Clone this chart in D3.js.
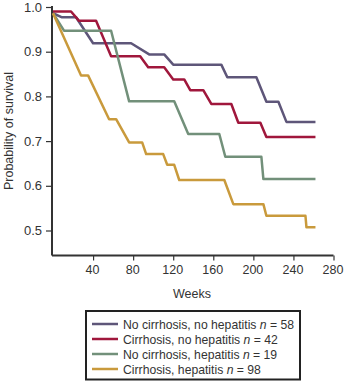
<!DOCTYPE html>
<html lang="en">
<head>
<meta charset="utf-8">
<title>Survival</title>
<script src="https://cdn.jsdelivr.net/npm/d3@7"></script>
<style>
  body { margin: 0; background: #fff; }
  text { font-family: Arial, "Liberation Sans", Helvetica, sans-serif; fill: #333; }
</style>
</head>
<body>
<script>

var width = 344;
var height = 381;

// weeks and survival at the corners of each curve
var noCirrNoHepWeeks = [0, 9, 23, 40, 78, 96, 111, 120, 168, 174, 203, 213, 225, 233, 262];
var noCirrNoHepSurv  = [0.986, 0.977, 0.977, 0.919, 0.919, 0.894, 0.894, 0.871, 0.871, 0.843, 0.843, 0.788, 0.788, 0.743, 0.743];

var cirrNoHepWeeks = [0, 18, 26, 43, 58, 87, 95, 111, 120, 131, 137, 150, 158, 178, 185, 207, 213, 262];
var cirrNoHepSurv  = [0.990, 0.990, 0.969, 0.969, 0.890, 0.890, 0.865, 0.865, 0.838, 0.838, 0.814, 0.814, 0.783, 0.783, 0.741, 0.741, 0.709, 0.709];

var noCirrHepWeeks = [0, 11, 58, 76, 121, 135, 166, 172, 208, 210, 262];
var noCirrHepSurv  = [0.986, 0.947, 0.947, 0.789, 0.789, 0.716, 0.716, 0.665, 0.665, 0.615, 0.615];

var cirrHepWeeks = [0, 28, 35, 56, 63, 76, 89, 93, 110, 114, 121, 126, 171, 180, 210, 213, 252, 253, 262];
var cirrHepSurv  = [0.986, 0.847, 0.847, 0.749, 0.749, 0.697, 0.697, 0.671, 0.671, 0.647, 0.647, 0.613, 0.613, 0.559, 0.559, 0.533, 0.533, 0.507, 0.507];

var seriesNames = ["No cirrhosis, no hepatitis", "Cirrhosis, no hepatitis", "No cirrhosis, hepatitis", "Cirrhosis, hepatitis"];
var seriesN = [58, 42, 19, 98];
var colors = ["#5e5679", "#a0173c", "#72907a", "#c99a3c"];

var xTicks = [40, 80, 120, 160, 200, 240, 280];
var yTicks = [0.5, 0.6, 0.7, 0.8, 0.9, 1.0];

var series = [
  d3.zip(noCirrNoHepWeeks, noCirrNoHepSurv),
  d3.zip(cirrNoHepWeeks, cirrNoHepSurv),
  d3.zip(noCirrHepWeeks, noCirrHepSurv),
  d3.zip(cirrHepWeeks, cirrHepSurv)
];

var svg = d3.select("body").append("svg")
    .attr("width", width)
    .attr("height", height);

var x = d3.scaleLinear().domain([0, 280]).range([53, 333.5]);
var y = d3.scaleLinear().domain([0.5, 1.0]).range([230.5, 7]);
var yBottom = 255.5;
var xLeft = 52;

// axes
var xAxis = svg.append("g")
    .attr("transform", "translate(0," + yBottom + ")")
    .call(d3.axisBottom(x).tickValues(xTicks).tickSize(5).tickPadding(5).tickSizeOuter(0));
xAxis.select(".domain").attr("d", "M" + xLeft + ",0H" + x(280));
xAxis.selectAll(".tick text").attr("font-size", 12.5).attr("dx", -1);

var yAxis = svg.append("g")
    .attr("transform", "translate(" + xLeft + ",0)")
    .call(d3.axisLeft(y).tickValues(yTicks).tickFormat(d3.format(".1f")).tickSize(6).tickPadding(4).tickSizeOuter(0));
yAxis.select(".domain").attr("d", "M0," + (y(1.0) - 1) + "V" + yBottom);
yAxis.selectAll(".tick text").attr("font-size", 13);

svg.selectAll(".domain").attr("stroke", "#333").attr("stroke-width", 2);
svg.selectAll(".tick line").attr("stroke", "#333").attr("stroke-width", 1.2);
svg.selectAll(".tick text").attr("fill", "#333");

svg.append("text")
    .attr("x", 192)
    .attr("y", 298)
    .attr("text-anchor", "middle")
    .attr("font-size", 12.5)
    .text("Weeks");

svg.append("text")
    .attr("transform", "translate(13,131)rotate(-90)")
    .attr("text-anchor", "middle")
    .attr("font-size", 12.5)
    .text("Probability of survival");

// curves
var line = d3.line()
    .x(function(d) { return x(d[0]); })
    .y(function(d) { return y(d[1]); });

svg.selectAll("path.curve")
    .data(series)
    .enter()
    .append("path")
    .attr("class", "curve")
    .attr("d", line)
    .attr("fill", "none")
    .attr("stroke", function(d, i) { return colors[i]; })
    .attr("stroke-width", 2.5)
    .attr("stroke-linejoin", "round");

// legend
var legend = svg.append("g");
legend.append("rect")
    .attr("x", 86)
    .attr("y", 311)
    .attr("width", 214)
    .attr("height", 68.5)
    .attr("fill", "none")
    .attr("stroke", "#222")
    .attr("stroke-width", 2);

var rows = legend.selectAll("g.row")
    .data(seriesNames)
    .enter()
    .append("g")
    .attr("class", "row")
    .attr("transform", function(d, i) { return "translate(0," + (324 + i * 15) + ")"; });

rows.append("line")
    .attr("x1", 92).attr("x2", 118)
    .attr("stroke", function(d, i) { return colors[i]; })
    .attr("stroke-width", 2.5);

var label = rows.append("text")
    .attr("x", 123)
    .attr("y", 4.5)
    .attr("font-size", 12.2)
    .attr("fill", "#222");
label.append("tspan").text(function(d) { return d + " "; });
label.append("tspan").attr("font-style", "italic").text("n");
label.append("tspan").text(function(d, i) { return " = " + seriesN[i]; });

</script>
</body>
</html>
